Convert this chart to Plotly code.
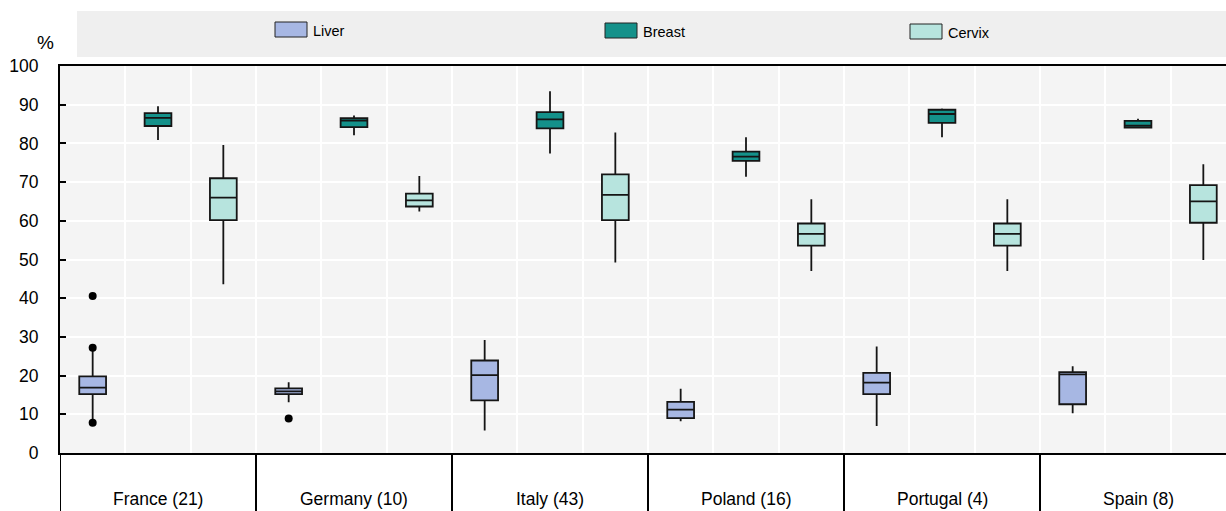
import plotly.graph_objects as go

# ---------------- data ----------------
countries = ["France (21)", "Germany (10)", "Italy (43)", "Poland (16)", "Portugal (4)", "Spain (8)"]
series = ["Liver", "Breast", "Cervix"]

liver_low = [8.0, 13.1, 5.8, 8.2, 7.0, 10.3]
liver_q1 = [15.2, 15.2, 13.6, 9.0, 15.2, 12.6]
liver_med = [16.9, 15.9, 20.1, 11.2, 18.2, 20.3]
liver_q3 = [19.8, 16.7, 23.9, 13.2, 20.7, 20.9]
liver_high = [27.2, 18.3, 29.2, 16.6, 27.5, 22.4]

breast_low = [80.9, 82.1, 77.4, 71.4, 81.6, 83.9]
breast_q1 = [84.5, 84.2, 83.9, 75.5, 85.3, 84.1]
breast_med = [86.6, 85.9, 86.2, 76.6, 87.6, 84.6]
breast_q3 = [87.8, 86.5, 88.1, 77.9, 88.7, 85.8]
breast_high = [89.6, 87.2, 93.5, 81.6, 89.0, 86.4]

cervix_low = [43.6, 62.4, 49.2, 47.0, 47.0, 49.9]
cervix_q1 = [60.2, 63.7, 60.2, 53.6, 53.6, 59.5]
cervix_med = [66.0, 65.3, 66.7, 56.6, 56.6, 65.0]
cervix_q3 = [71.0, 67.0, 72.0, 59.3, 59.3, 69.2]
cervix_high = [79.6, 71.6, 82.8, 65.6, 65.6, 74.6]

outlier_country = ["France (21)", "France (21)", "France (21)", "Germany (10)"]
outlier_value = [40.6, 27.2, 7.8, 8.9]

y_ticks = [0, 10, 20, 30, 40, 50, 60, 70, 80, 90, 100]

# ---------------- styling ----------------
colors = {"Liver": "#A7B7E3", "Breast": "#14918A", "Cervix": "#B7E4DE"}
FONT = "Liberation Sans, Arial, sans-serif"

W, H = 1226, 511
ML, MR, MT, MB = 60, 0, 66, 58
PW = W - ML - MR
PH = H - MT - MB


def px(xp):
    return (xp - ML) / PW


def py(yp):
    return (H - MB - yp) / PH


n_series = len(series)
stats = {
    "Liver": (liver_low, liver_q1, liver_med, liver_q3, liver_high),
    "Breast": (breast_low, breast_q1, breast_med, breast_q3, breast_high),
    "Cervix": (cervix_low, cervix_q1, cervix_med, cervix_q3, cervix_high),
}

fig = go.Figure()
for j, s in enumerate(series):
    lo, q1, med, q3, hi = stats[s]
    xs = [i * n_series + j for i in range(len(countries))]
    fig.add_trace(go.Box(
        x=xs, q1=q1, median=med, q3=q3, lowerfence=lo, upperfence=hi,
        name=s, fillcolor=colors[s], line=dict(color="#151515", width=1.8),
        whiskerwidth=0, width=0.41, boxpoints=False, showlegend=False,
    ))

ox = [countries.index(c) * n_series + 0 for c in outlier_country]
fig.add_trace(go.Scatter(
    x=ox, y=outlier_value, mode="markers",
    marker=dict(color="black", size=8), showlegend=False,
))

n_cols = len(countries) * n_series
xmax = -0.5 + PW / (196.0 / 3.0)

shapes = []
annotations = []

# group separators below axis
for i in range(len(countries) + 1):
    shapes.append(dict(type="line", xref="x", yref="paper",
                       x0=i * n_series - 0.5, x1=i * n_series - 0.5,
                       y0=0, y1=-MB / PH, line=dict(color="black", width=2),
                       layer="above"))
for i, c in enumerate(countries):
    annotations.append(dict(text=c, xref="x", yref="paper",
                            x=i * n_series + (n_series - 1) / 2, y=py(499),
                            showarrow=False, xanchor="center", yanchor="middle",
                            font=dict(size=17.5, color="black", family=FONT)))

# legend background
shapes.append(dict(type="rect", xref="paper", yref="paper",
                   x0=px(77), x1=px(1226), y0=py(57), y1=py(11),
                   fillcolor="#EFEFEF", line=dict(width=0), layer="below"))
leg = [("Liver", 275, 22), ("Breast", 605, 23), ("Cervix", 910, 24)]
for name, lx, ly in leg:
    shapes.append(dict(type="rect", xref="paper", yref="paper",
                       x0=px(lx), x1=px(lx + 32), y0=py(ly + 15), y1=py(ly),
                       fillcolor=colors[name], line=dict(color="#222", width=1)))
    annotations.append(dict(text=name, xref="paper", yref="paper",
                            x=px(lx + 36), y=py(ly + 9), showarrow=False,
                            xanchor="left", yanchor="middle",
                            font=dict(size=14.5, color="black", family=FONT)))

annotations.append(dict(text="%", xref="paper", yref="paper", x=px(45), y=py(43),
                        showarrow=False, xanchor="center", yanchor="middle",
                        font=dict(size=19, color="black", family=FONT)))

fig.update_layout(
    width=W, height=H,
    margin=dict(l=ML, r=MR, t=MT, b=MB, pad=0),
    paper_bgcolor="white", plot_bgcolor="#F4F4F4",
    boxmode="overlay",
    font=dict(family=FONT, size=17.5, color="black"),
    shapes=shapes, annotations=annotations,
    showlegend=False,
)
fig.update_xaxes(
    range=[-0.5, xmax], tickvals=[k + 0.5 for k in range(n_cols)],
    showticklabels=False, ticks="", showgrid=True, gridcolor="white", gridwidth=2,
    showline=True, linecolor="black", linewidth=2, mirror=True, zeroline=False,
)
fig.update_yaxes(
    range=[0, 100], tickvals=y_ticks, ticks="inside", ticklen=6, tickwidth=1.5,
    tickcolor="black", showgrid=True, gridcolor="white", gridwidth=2,
    showline=True, linecolor="black", linewidth=2, zeroline=False,
    tickfont=dict(size=17.5, family=FONT, color="black"), ticklabelstandoff=16,
)

fig.write_html(
    "out.html",
    config={"displayModeBar": False},
    post_script="document.body.style.margin='0px';document.body.style.overflow='hidden';",
)
